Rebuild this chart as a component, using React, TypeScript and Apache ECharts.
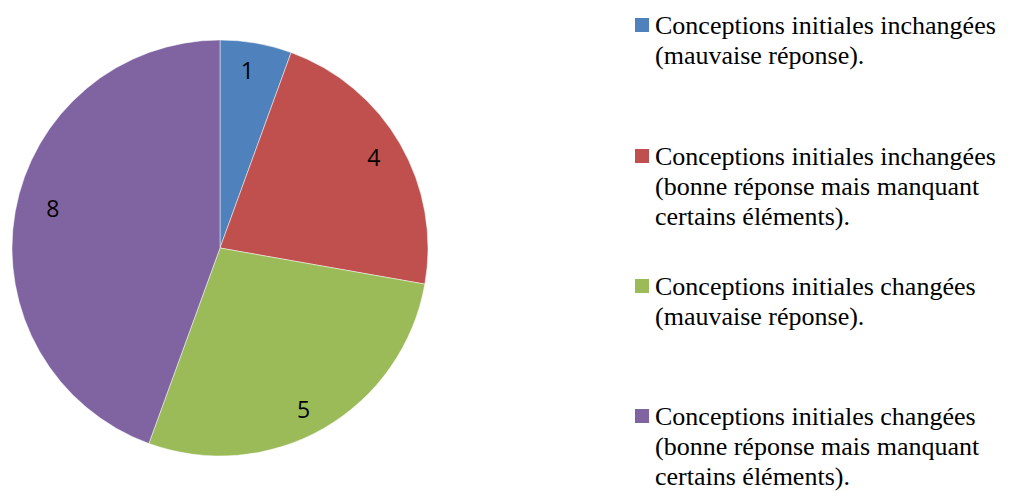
import React, { useEffect, useRef } from "react";
import * as echarts from "echarts";

const categories = [
  "Conceptions initiales inchangées\n(mauvaise réponse).",
  "Conceptions initiales inchangées\n(bonne réponse mais manquant\ncertains éléments).",
  "Conceptions initiales changées\n(mauvaise réponse).",
  "Conceptions initiales changées\n(bonne réponse mais manquant\ncertains éléments).",
];
const values = [1, 4, 5, 8];
const colors = ["#4F81BD", "#C0504D", "#9BBB59", "#8064A2"];
const legendTops = [10, 141, 271, 401];
const labelNudges = [
  [-4, 0],
  [-3, -1],
  [-7, 4],
  [11, -9],
];

export default function App() {
  const ref = useRef<HTMLDivElement>(null);
  useEffect(() => {
    if (!ref.current) return;
    const chart = echarts.init(ref.current, null, { renderer: "svg" });
    const data = categories.map((name, i) => ({
      name,
      value: values[i],
      itemStyle: { color: colors[i] },
    }));
    const graphic: any[] = [];
    categories.forEach((name, i) => {
      graphic.push({
        type: "rect",
        left: 635,
        top: legendTops[i] + 8,
        shape: { width: 14, height: 14 },
        style: { fill: colors[i] },
      });
      graphic.push({
        type: "text",
        left: 655,
        top: legendTops[i],
        style: {
          text: name,
          font: '26px "Liberation Serif", "Times New Roman", serif',
          lineHeight: 30,
          fill: "#000",
        },
      });
    });
    chart.setOption({
      animation: false,
      backgroundColor: "#fff",
      graphic,
      series: [
        {
          type: "pie",
          center: [220, 248],
          radius: 208,
          startAngle: 90,
          clockwise: true,
          label: { show: false },
          labelLine: { show: false },
          itemStyle: { borderColor: "rgba(255,255,255,0.6)", borderWidth: 0.8 },
          emphasis: { disabled: true },
          data,
        },
        {
          type: "pie",
          center: [220, 248],
          radius: [150, 206],
          startAngle: 90,
          clockwise: true,
          silent: true,
          itemStyle: { color: "transparent" },
          label: {
            show: true,
            position: "inside",
            formatter: "{c}",
            color: "#000",
            fontSize: 23,
            fontFamily: '"Open Sans", "Noto Sans", sans-serif',
          },
          labelLine: { show: false },
          labelLayout: (p: any) => ({
            dx: labelNudges[p.dataIndex][0],
            dy: labelNudges[p.dataIndex][1],
          }),
          emphasis: { disabled: true },
          data: values.map((v, i) => ({ name: categories[i], value: v })),
        },
      ],
    });
    return () => chart.dispose();
  }, []);
  return (
    <div
      ref={ref}
      style={{ position: "fixed", left: 0, top: 0, width: 1011, height: 491 }}
    />
  );
}
